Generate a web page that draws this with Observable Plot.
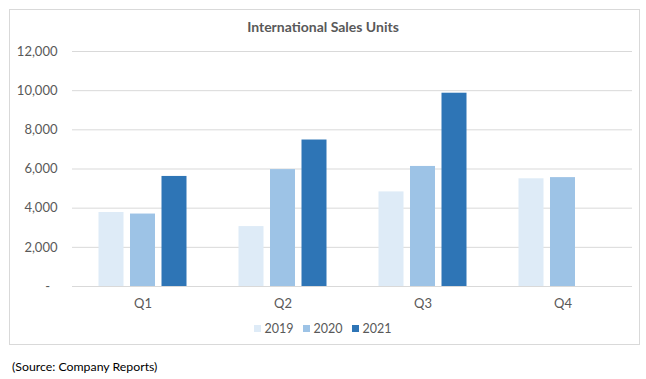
<!DOCTYPE html>
<html>
<head>
<meta charset="utf-8">
<script src="https://cdn.jsdelivr.net/npm/d3@7"></script>
<script src="https://cdn.jsdelivr.net/npm/@observablehq/plot@0.6"></script>
<style>
  html, body { margin: 0; padding: 0; background: #fff; width: 646px; height: 379px; overflow: hidden; font-family: Lato, "Open Sans", sans-serif; }
  #box { position: absolute; left: 9px; top: 9px; width: 631px; height: 336px; border: 1px solid #d9d9d9; box-sizing: border-box; }
  #title { position: absolute; left: 0; top: 18px; width: 646px; text-align: center; font-size: 14px; font-weight: bold; color: #595959; }
  #chart { position: absolute; left: 0; top: 40px; }
  #legend { position: absolute; left: 4px; top: 312px; width: 646px; display: flex; justify-content: center; }
  #legend .lg-swatch { margin-right: 9px !important; }
  #legend .lg-swatch > svg { margin-right: 4px !important; }
  #source { position: absolute; left: 12px; top: 359px; font-size: 12.3px; color: #000; }
</style>
</head>
<body>
<div id="box"></div>
<div id="title">International Sales Units</div>
<div id="chart"></div>
<div id="legend"></div>
<div id="source">(Source: Company Reports)</div>
<script>
const quarters = ["Q1", "Q2", "Q3", "Q4"];
const years = ["2019", "2020", "2021"];
const sales2019 = [3780, 3060, 4830, 5500];
const sales2020 = [3700, 5970, 6130, 5560];
const sales2021 = [5620, 7480, 9870, null];
const yTicks = [0, 2000, 4000, 6000, 8000, 10000, 12000];
const colors = ["#deebf7", "#9dc3e6", "#2e75b6"];

const series = [sales2019, sales2020, sales2021];
const data = [];
years.forEach((yr, i) => quarters.forEach((q, j) => {
  if (series[i][j] != null) data.push({quarter: q, year: yr, value: series[i][j]});
}));

const fmt = d3.format(",");
const step = 31.5;

const plot = Plot.plot({
  width: 646,
  height: 276,
  marginLeft: 72,
  marginRight: 14,
  marginTop: 11,
  marginBottom: 30,
  style: {fontFamily: "Lato, 'Open Sans', sans-serif", fontSize: "13px", color: "#595959", background: "transparent"},
  x: {domain: quarters, paddingInner: 0.825, paddingOuter: 0.4125, label: null, tickSize: 0, tickPadding: 12},
  y: {domain: [0, 12000], ticks: yTicks, tickSize: 0, tickPadding: 15, label: null,
      tickFormat: d => d === 0 ? "-\u2007" : fmt(d)},
  color: {domain: years, range: colors},
  marks: [
    Plot.ruleY(yTicks, {stroke: "#d9d9d9", strokeWidth: 1}),
    ...years.map((yr, i) => Plot.barY(data.filter(d => d.year === yr), {
      x: "quarter", y: "value", fill: "year", dx: (i - 1) * step
    }))
  ]
});
document.getElementById("chart").appendChild(plot);

const legend = Plot.legend({
  color: {domain: years, range: colors, type: "ordinal"},
  swatchSize: 7,
  className: "lg",
  style: {fontFamily: "Lato, 'Open Sans', sans-serif", fontSize: "12.5px", color: "#595959"}
});
document.getElementById("legend").appendChild(legend);
</script>
</body>
</html>
